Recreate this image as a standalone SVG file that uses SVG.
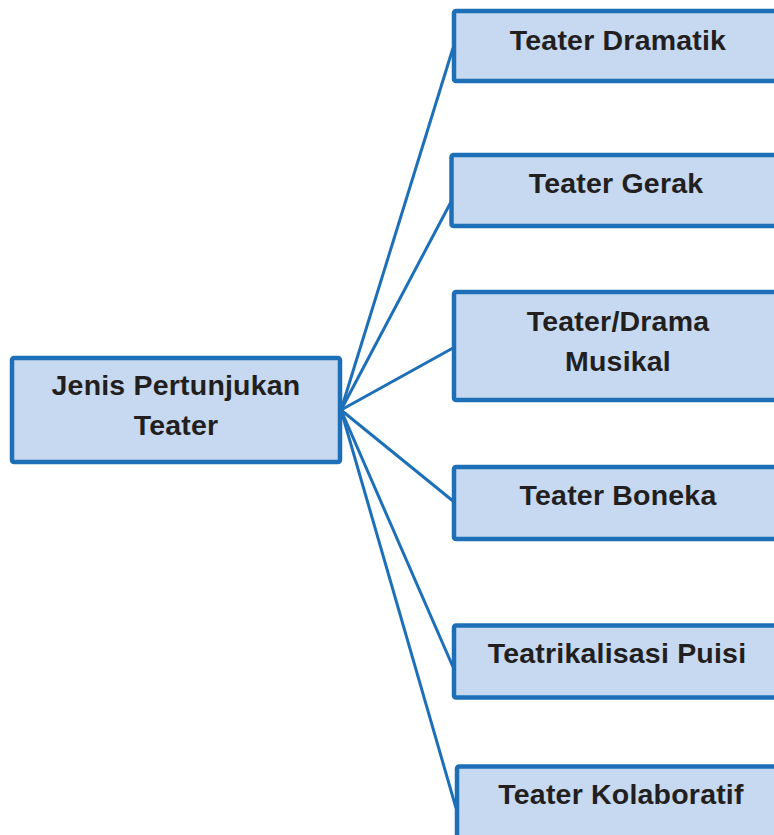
<svg xmlns="http://www.w3.org/2000/svg" width="774" height="835" viewBox="0 0 774 835">
<style>
.box{fill:#c6d9f0;stroke:#1d70b8;stroke-width:4.5;}
.lbl{font-family:"Liberation Sans",Arial,sans-serif;font-weight:bold;font-size:28.5px;letter-spacing:0.2px;fill:#231f20;text-anchor:middle;}
.con{stroke:#1d70b8;stroke-width:3;fill:none;}
</style>
<rect width="774" height="835" fill="#ffffff"/>
<g id="connectors">
<line class="con" x1="341" y1="410" x2="453" y2="48"/>
<line class="con" x1="341" y1="410" x2="452" y2="200"/>
<line class="con" x1="341" y1="410" x2="453" y2="348"/>
<line class="con" x1="341" y1="410" x2="453" y2="501"/>
<line class="con" x1="341" y1="410" x2="453" y2="667"/>
<line class="con" x1="341" y1="410" x2="456" y2="808"/>
</g>
<g id="root">
<rect class="box" x="12" y="358" width="328" height="104" rx="2"/>
<text class="lbl" x="176" y="395">Jenis Pertunjukan</text>
<text class="lbl" x="176" y="435">Teater</text>
</g>
<g id="n1">
<rect class="box" x="454" y="11" width="328" height="70" rx="2"/>
<text class="lbl" x="618" y="50">Teater Dramatik</text>
</g>
<g id="n2">
<rect class="box" x="451.5" y="155" width="328" height="71" rx="2"/>
<text class="lbl" x="616" y="193">Teater Gerak</text>
</g>
<g id="n3">
<rect class="box" x="454" y="292" width="328" height="108" rx="2"/>
<text class="lbl" x="618" y="331">Teater/Drama</text>
<text class="lbl" x="618" y="371">Musikal</text>
</g>
<g id="n4">
<rect class="box" x="454" y="467" width="328" height="72" rx="2"/>
<text class="lbl" x="618" y="505">Teater Boneka</text>
</g>
<g id="n5">
<rect class="box" x="454" y="625.5" width="328" height="72" rx="2"/>
<text class="lbl" x="617" y="663">Teatrikalisasi Puisi</text>
</g>
<g id="n6">
<rect class="box" x="457" y="766.5" width="328" height="72" rx="2"/>
<text class="lbl" x="621" y="804">Teater Kolaboratif</text>
</g>
</svg>
